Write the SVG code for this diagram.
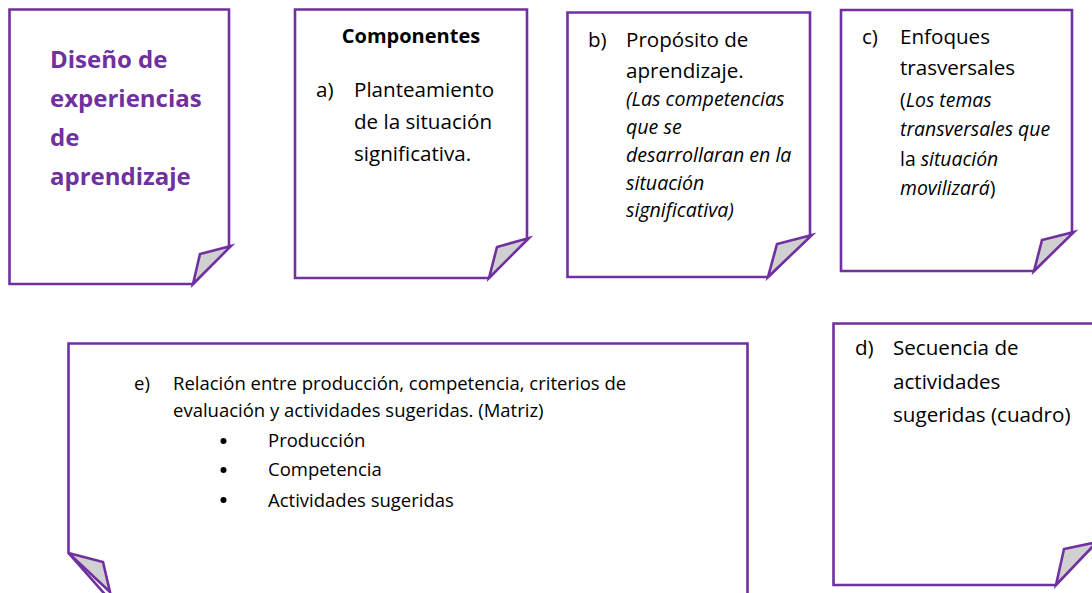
<svg xmlns="http://www.w3.org/2000/svg" width="1092" height="593" viewBox="0 0 1092 593">
<style>
.page{fill:#fff;stroke:#7030A0;stroke-width:2.6;stroke-linejoin:miter}
.fold{fill:#d0d0d0;stroke:#7030A0;stroke-width:2.6;stroke-linejoin:miter}
text{font-family:"Open Sans",Lato,sans-serif;fill:#000}
.t{font-size:20.6px}
.i{font-size:19.6px;font-style:italic}
.s{font-size:18.5px}
.si{font-size:19.4px}
.title{font-size:24px;font-weight:bold;fill:#7030A0}
.b{font-size:20px;font-weight:bold}
</style>
<rect width="1092" height="593" fill="#fff"/>
<g id="diseno">
<path class="page" d="M9.5,9.5 H229 V247 L193,284 H9.5 Z"/>
<path class="fold" d="M193,284 L200,254 L231,246 Z"/>
<text class="title" x="50" y="68">Diseño de</text>
<text class="title" x="50" y="107">experiencias</text>
<text class="title" x="50" y="146">de</text>
<text class="title" x="50" y="185">aprendizaje</text>
</g>
<g id="componentes">
<path class="page" d="M295,9.5 H527 V239 L489,278 H295 Z"/>
<path class="fold" d="M489,278 L497,247 L529,238 Z"/>
<text class="b" x="411" y="43" text-anchor="middle">Componentes</text>
<text class="t" x="316" y="97">a)</text>
<text class="t" x="354" y="97">Planteamiento</text>
<text class="t" x="354" y="129">de la situación</text>
<text class="t" x="354" y="161">significativa.</text>
</g>
<g id="proposito">
<path class="page" d="M567.5,12.5 H810 V236 L768,277 H567.5 Z"/>
<path class="fold" d="M768,277 L777,244 L812,235 Z"/>
<text class="t" x="588" y="47">b)</text>
<text class="t" x="626" y="47">Propósito de</text>
<text class="t" x="626" y="78">aprendizaje.</text>
<text class="i" x="626" y="106">(Las competencias</text>
<text class="i" x="626" y="134">que se</text>
<text class="i" x="626" y="162">desarrollaran en la</text>
<text class="i" x="626" y="190">situación</text>
<text class="i" x="626" y="217">significativa)</text>
</g>
<g id="enfoques">
<path class="page" d="M841,10 H1072 V232 L1034,271 H841 Z"/>
<path class="fold" d="M1034,271 L1042,240 L1074,232 Z"/>
<text class="t" x="862" y="44">c)</text>
<text class="t" x="900" y="44">Enfoques</text>
<text class="t" x="900" y="75">trasversales</text>
<text class="si" x="900" y="107">(<tspan font-style="italic">Los temas</tspan></text>
<text class="si" x="900" y="136" font-style="italic">transversales que</text>
<text class="si" x="900" y="166">la <tspan font-style="italic">situación</tspan></text>
<text class="si" x="900" y="195"><tspan font-style="italic">movilizará</tspan>)</text>
</g>
<g id="relacion">
<path class="page" d="M68.5,343.5 H747.5 V600 H110 L68.5,553 Z"/>
<path class="fold" d="M68.5,553 L103,562 L110,592 Z"/>
<text class="s" x="134" y="390">e)</text>
<text class="s" x="173" y="390">Relación entre producción, competencia, criterios de</text>
<text class="s" x="173" y="417">evaluación y actividades sugeridas. (Matriz)</text>
<circle cx="223.5" cy="441" r="3" fill="#000"/>
<circle cx="223.5" cy="470" r="3" fill="#000"/>
<circle cx="223.5" cy="500" r="3" fill="#000"/>
<text class="s" x="268" y="447">Producción</text>
<text class="s" x="268" y="476">Competencia</text>
<text class="s" x="268" y="507">Actividades sugeridas</text>
</g>
<g id="secuencia">
<path class="page" d="M833.5,323.5 H1094 V543 L1056,585 H833.5 Z"/>
<path class="fold" d="M1056,585 L1064,549 L1097,542 Z"/>
<text class="t" x="855" y="355">d)</text>
<text class="t" x="893" y="355">Secuencia de</text>
<text class="t" x="893" y="389">actividades</text>
<text class="t" x="893" y="422">sugeridas (cuadro)</text>
</g>
<g id="connectors"/>
</svg>
